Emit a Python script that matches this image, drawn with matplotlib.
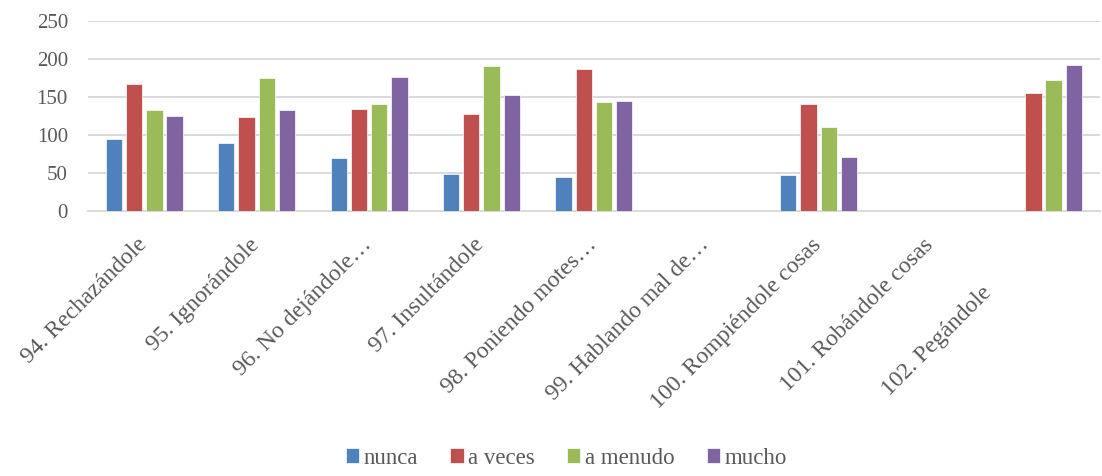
import numpy as np
import matplotlib.pyplot as plt
from matplotlib.transforms import ScaledTranslation

categories = ["94. Rechazándole", "95. Ignorándole", "96. No dejándole…",
              "97. Insultándole", "98. Poniendo motes…", "99. Hablando mal de…",
              "100. Rompiéndole cosas", "101. Robándole cosas", "102. Pegándole"]
series_names = ["nunca", "a veces", "a menudo", "mucho"]
nunca = [95, 89, 69, 49, 45, 0, 47, 0, 0]
a_veces = [167, 123, 134, 127, 187, 0, 141, 0, 155]
a_menudo = [133, 175, 141, 191, 143, 0, 111, 0, 172]
mucho = [125, 133, 176, 152, 145, 0, 71, 0, 192]
colors = ["#4F81BD", "#C0504D", "#9BBB59", "#8064A2"]

plt.rcParams['font.family'] = ['Liberation Serif', 'DejaVu Serif']
txt = "#595959"

fig = plt.figure(figsize=(11.02, 4.76), dpi=100)
ax = fig.add_axes([0.0799, 0.557, 0.918, 0.399])

x = np.arange(len(categories))
slot = 0.18
for i, (vals, name) in enumerate(zip([nunca, a_veces, a_menudo, mucho], series_names)):
    ax.bar(x + (i - 1.5) * slot, vals, width=0.145, color=colors[i],
           label=name, zorder=3, edgecolor="white", linewidth=0.5)

ax.set_xlim(-0.5, len(categories) - 0.5)
ax.set_ylim(0, 250)
ax.set_yticks(range(0, 251, 50))
ax.grid(axis="y", color="#d9d9d9", linewidth=1.4, zorder=0)
for s in ["top", "right", "left"]:
    ax.spines[s].set_visible(False)
ax.spines["bottom"].set_color("#d9d9d9")
ax.spines["bottom"].set_linewidth(1.4)
ax.tick_params(axis="both", length=0, colors=txt)
ax.tick_params(axis="y", labelsize=15, pad=14.5)
ax.set_xticks(x)
ax.set_xticklabels(categories, rotation=45, ha="right", rotation_mode="anchor",
                   fontsize=17, color=txt)
ax.tick_params(axis="x", pad=11)

# desplazar rótulos; el último aparece más abajo en el original
labels = ax.get_xticklabels()
for lbl in labels[:-1]:
    lbl.set_transform(lbl.get_transform() + ScaledTranslation(-0.08, -0.08, fig.dpi_scale_trans))
labels[-1].set_transform(labels[-1].get_transform()
                         + ScaledTranslation(-0.62, -0.56, fig.dpi_scale_trans))

fig.legend(loc="lower center", bbox_to_anchor=(0.514, -0.028), ncol=4, frameon=False,
           fontsize=16.5, handlelength=0.58, handleheight=0.58, handletextpad=0.2,
           columnspacing=1.4, labelcolor=txt)

fig.savefig("out.png", dpi=100)
